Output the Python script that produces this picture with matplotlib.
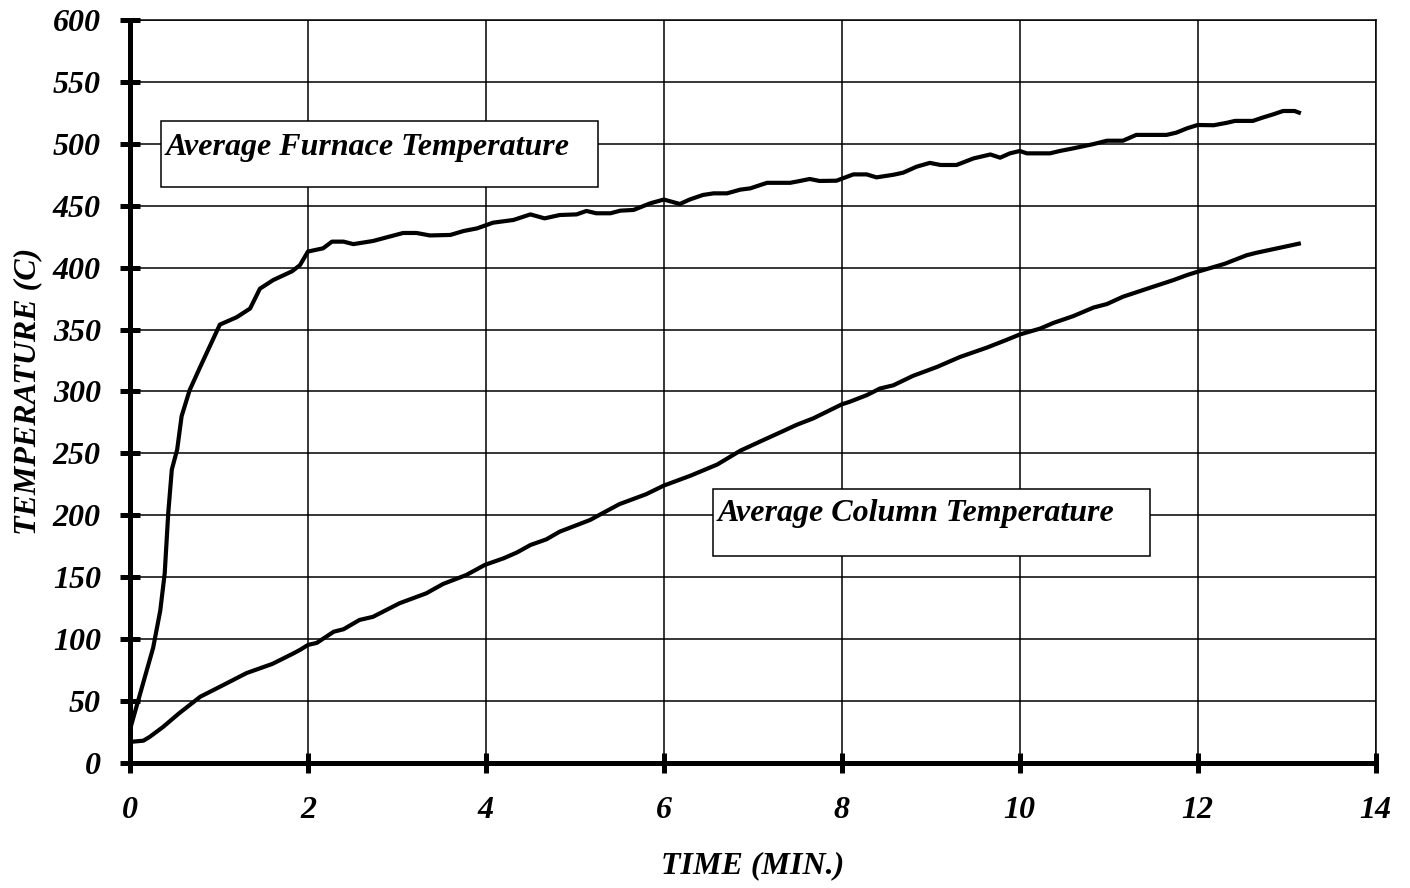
import matplotlib
matplotlib.use('Agg')
import matplotlib.pyplot as plt
from matplotlib.patches import Rectangle
from matplotlib.font_manager import FontProperties
import numpy as np

# furnace curve (time in min, temp in C)
furnace_t = [0.0, 0.26, 0.34, 0.39, 0.43, 0.47, 0.53, 0.58, 0.67, 0.79, 1.01,
             1.2, 1.35, 1.46, 1.61, 1.82, 1.91, 2.0, 2.17, 2.27, 2.40, 2.51,
             2.73, 3.07, 3.22, 3.37, 3.60, 3.75, 3.90, 4.08, 4.31, 4.50, 4.66,
             4.83, 5.02, 5.13, 5.24, 5.40, 5.51, 5.66, 5.85, 6.0, 6.18, 6.29,
             6.44, 6.56, 6.71, 6.86, 6.97, 7.16, 7.42, 7.53, 7.64, 7.75, 7.94,
             8.13, 8.28, 8.39, 8.58, 8.69, 8.84, 8.99, 9.11, 9.29, 9.48, 9.67,
             9.78, 9.89, 10.0, 10.08, 10.34, 10.45, 10.60, 10.83, 10.98, 11.16,
             11.31, 11.65, 11.76, 11.88, 12.0, 12.18, 12.33, 12.42, 12.62,
             12.74, 12.85, 12.96, 13.09, 13.16]
furnace_temp = [27, 93, 123, 153, 202, 237, 253, 280, 301, 320, 354,
                360, 367, 383, 390, 397, 402, 413, 415.6, 421, 421, 419,
                421.5, 428, 428, 426, 426.4, 429.6, 431.7, 436.3, 438.5, 443, 439.8,
                442.5, 443, 445.8, 443.9, 443.9, 446, 446.6, 452, 455, 451.4, 455,
                458.7, 460, 460, 463, 464, 468.5, 468.5, 470, 471.6, 470, 470.2,
                475.3, 475.3, 472.9, 475, 476.7, 481.5, 484.6, 482.9, 482.9, 488.2, 491.4,
                488.8, 492.3, 494.2, 492.3, 492.3, 494.2, 496.3, 499.8, 502.5, 502.5,
                507.2, 507.2, 509, 512.5, 515.2, 515, 517, 518.5, 518.5,
                521.4, 523.8, 526.5, 526.5, 524.6]

# column curve
column_t = [0.0, 0.15, 0.22, 0.37, 0.55, 0.79, 1.05, 1.31, 1.6, 1.84, 1.91,
            2.0, 2.10, 2.29, 2.40, 2.58, 2.73, 3.03, 3.33, 3.52, 3.78, 3.99,
            4.20, 4.35, 4.50, 4.68, 4.83, 5.17, 5.5, 5.8, 6.0, 6.3, 6.6,
            6.86, 7.08, 7.34, 7.49, 7.68, 7.87, 8.0, 8.09, 8.28, 8.43, 8.58,
            8.80, 9.07, 9.33, 9.63, 9.85, 10.0, 10.23, 10.38, 10.60, 10.83,
            10.98, 11.16, 11.50, 11.73, 11.88, 12.0, 12.3, 12.55, 12.66, 13.16]
column_temp = [17, 18, 21, 29, 40, 53.5, 63, 72.6, 80, 88.6, 91.3,
               95.3, 97, 106, 108, 115.5, 118, 129, 137, 144.6, 151.8, 160,
               165.3, 170, 176, 180.6, 186.8, 196.2, 209, 217, 224, 232, 241,
               252.2, 259.5, 268, 273, 278.3, 285, 289.6, 291.7, 297, 302.4, 305,
               312.6, 319.8, 327.9, 335.4, 341.6, 346, 350.8, 355.4, 360.8, 367.8,
               370.6, 376.5, 384.6, 390, 394, 396.7, 403, 410, 412, 419.7]

xticks = np.arange(0, 15, 2)
yticks = np.arange(0, 601, 50)

font = dict(family='Liberation Serif', weight='bold', style='italic', size=23)

fig = plt.figure(figsize=(14.1, 8.88), dpi=100)
ax = fig.add_axes([0.0922, 0.1408, 0.8834, 0.8367])

ax.plot(furnace_t, furnace_temp, color='black', lw=3, zorder=4, solid_capstyle='butt')
ax.plot(column_t, column_temp, color='black', lw=3, zorder=4, solid_capstyle='butt')

ax.set_xlim(0, 14)
ax.set_ylim(0, 600)
ax.set_xticks(xticks)
ax.set_yticks(yticks)
ax.grid(True, color='black', lw=1.1)
ax.set_axisbelow(True)

for s in ['left', 'bottom']:
    ax.spines[s].set_linewidth(3.6)
for s in ['top', 'right']:
    ax.spines[s].set_linewidth(1.1)
ax.tick_params(axis='both', direction='inout', length=14, width=3.6,
               top=False, right=False)
ax.tick_params(axis='x', pad=17)
ax.tick_params(axis='y', pad=14)

for lab in ax.get_xticklabels() + ax.get_yticklabels():
    lab.set_fontproperties(FontProperties(**font))

ax.set_xlabel('TIME (MIN.)', fontdict=font, labelpad=19)
ax.set_ylabel('TEMPERATURE (C)', fontdict=font, labelpad=8)

# boxed captions
ax.add_patch(Rectangle((0.35, 465), 4.91, 53.4, facecolor='white',
                       edgecolor='black', lw=1.1, zorder=3))
ax.text(0.40, 491, 'Average Furnace Temperature', fontdict=font,
        va='baseline', ha='left', zorder=5)
ax.add_patch(Rectangle((6.55, 167), 4.91, 54, facecolor='white',
                       edgecolor='black', lw=1.1, zorder=3))
ax.text(6.61, 195, 'Average Column Temperature', fontdict=font,
        va='baseline', ha='left', zorder=5)

fig.savefig('out.png', dpi=100)
